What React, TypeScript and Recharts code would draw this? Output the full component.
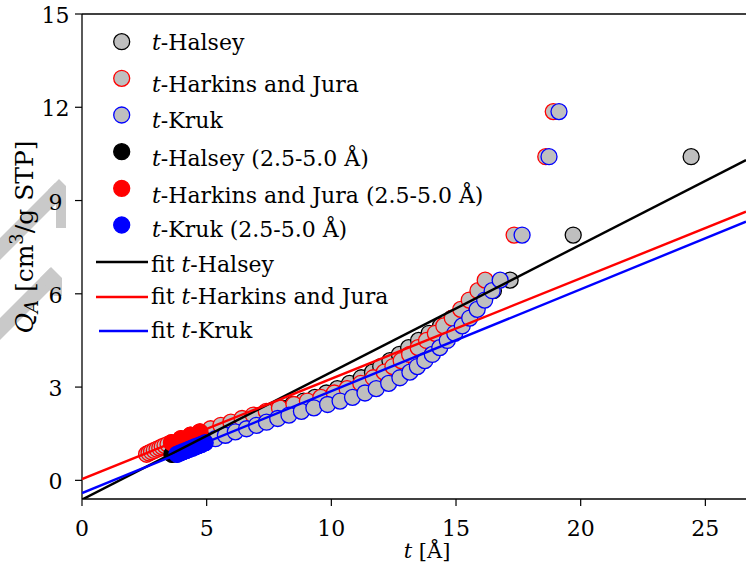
import React from 'react';
import { ScatterChart, Scatter, XAxis, YAxis, ReferenceLine } from 'recharts';

// adsorbed amount, shared by the three t-curves
const qA = [
  0.84, 0.88, 0.92, 0.96, 1.0, 1.04, 1.08, 1.12, 1.16, 1.21,
  1.34, 1.45, 1.56,
  1.66, 1.77, 1.87, 1.99, 2.1, 2.22, 2.33, 2.44, 2.55, 2.67, 2.81, 2.95, 3.12, 3.3,
  3.48, 3.66, 3.85, 4.05, 4.27, 4.5, 4.73, 4.97, 5.22, 5.5, 5.8, 6.1, 6.44,
  7.89, 10.41, 11.86,
];

const tHalsey = [
  3.61, 3.71, 3.8, 3.9, 4.0, 4.1, 4.19, 4.29, 4.39, 4.51,
  4.83, 5.15, 5.46,
  5.81, 6.12, 6.44, 6.8, 7.17, 7.58, 7.99, 8.45, 8.89, 9.34, 9.8, 10.24, 10.73, 11.2,
  11.65, 11.98, 12.35, 12.73, 13.1, 13.5, 13.92, 14.38, 14.84, 15.38, 15.94, 16.5, 17.17,
  19.7, 24.43, null,
];

const tHarkins = [
  2.59, 2.69, 2.79, 2.9, 3.01, 3.12, 3.22, 3.33, 3.45, 3.59,
  3.97, 4.35, 4.73,
  5.16, 5.57, 5.97, 6.42, 6.87, 7.39, 7.92, 8.5, 9.04, 9.58, 10.12, 10.63, 11.18, 11.68,
  12.12, 12.47, 12.8, 13.14, 13.48, 13.82, 14.17, 14.51, 14.85, 15.19, 15.53, 15.88, 16.17,
  17.33, 18.6, 18.9,
];

const tKruk = [
  3.81, 3.93, 4.05, 4.18, 4.3, 4.42, 4.54, 4.66, 4.79, 4.94,
  5.35, 5.75, 6.15,
  6.6, 7.0, 7.4, 7.85, 8.3, 8.8, 9.3, 9.85, 10.35, 10.85, 11.35, 11.8, 12.3, 12.75,
  13.15, 13.45, 13.75, 14.05, 14.35, 14.65, 14.95, 15.25, 15.55, 15.85, 16.15, 16.45, 16.77,
  17.65, 18.73, 19.13,
];

const fitRange = [3.5, 5.0];

const fitT = [0, 26.63];
const fitHalseyQ = [-0.62, 10.3];
const fitHarkinsQ = [0.04, 8.64];
const fitKrukQ = [-0.41, 8.32];

const xTicks = [0, 5, 10, 15, 20, 25];
const yTicks = [0, 3, 6, 9, 12, 15];

const FONT = 'DejaVu Serif';
const GRAY = '#bfbfbf';

const toPoints = (ts: (number | null)[]) =>
  ts.map((t, i) => ({ t, q: qA[i] })).filter((p) => p.t !== null) as { t: number; q: number }[];
const inRange = (pts: { t: number; q: number }[]) =>
  pts.filter((p) => p.t >= fitRange[0] && p.t <= fitRange[1]);
const fitPoints = (qs: number[]) => fitT.map((t, i) => ({ t, q: qs[i] }));

const halsey = toPoints(tHalsey);
const harkins = toPoints(tHarkins);
const kruk = toPoints(tKruk);

const dot = (fill: string, stroke: string) => (props: any) =>
  <circle cx={props.cx} cy={props.cy} r={8} fill={fill} stroke={stroke} strokeWidth={1.3} />;
const noDot = () => <g />;

const XTick = (props: any) => (
  <text x={props.x} y={536} textAnchor="middle" fontFamily={FONT} fontSize={22} fill="#000">
    {props.payload.value}
  </text>
);
const YTick = (props: any) => (
  <text x={55.5} y={props.y + 9} textAnchor="middle" fontFamily={FONT} fontSize={22} fill="#000">
    {props.payload.value}
  </text>
);

const legendMarkers = [
  { label: 't-Halsey', fill: GRAY, stroke: '#000', cy: 41.7, base: 49.5 },
  { label: 't-Harkins and Jura', fill: GRAY, stroke: '#ff0000', cy: 78.3, base: 91.7 },
  { label: 't-Kruk', fill: GRAY, stroke: '#0000ff', cy: 115, base: 128.3 },
  { label: 't-Halsey (2.5-5.0 Å)', fill: '#000', stroke: '#000', cy: 151.7, base: 166 },
  { label: 't-Harkins and Jura (2.5-5.0 Å)', fill: '#ff0000', stroke: '#ff0000', cy: 188.3, base: 203 },
  { label: 't-Kruk (2.5-5.0 Å)', fill: '#0000ff', stroke: '#0000ff', cy: 225, base: 236.7 },
];
const legendLines = [
  { label: 'fit t-Halsey', color: '#000', x0: 96, y: 262, base: 271.7 },
  { label: 'fit t-Harkins and Jura', color: '#ff0000', x0: 96, y: 297, base: 304 },
  { label: 'fit t-Kruk', color: '#0000ff', x0: 99, y: 331, base: 338 },
];

const withItalicT = (label: string) => {
  const i = label.indexOf('t-');
  return (
    <>
      {label.slice(0, i)}
      <tspan fontStyle="italic">t</tspan>
      {label.slice(i + 1)}
    </>
  );
};

export default function App() {
  return (
    <div style={{ position: 'absolute', left: 0, top: 0, width: 746, height: 563, background: '#fff', overflow: 'hidden' }}>
      <svg width={746} height={563} style={{ position: 'absolute', left: 0, top: 0 }}>
        <g fill="#c9c9c9">
          <polygon points="0,238 55,183 66,194 0,260" />
          <polygon points="48,190 59,179 66,186 66,228 56,228 56,198" />
          <polygon points="0,318 50,268 61,279 0,340" />
          <polygon points="40,278 51,267 62,278 62,296 54,296" />
        </g>
      </svg>
      <div style={{ position: 'absolute', left: 0, top: 0 }}>
        <ScatterChart width={746} height={563} margin={{ top: 14, right: 0, bottom: 0, left: 0 }}>
          <XAxis
            type="number"
            dataKey="t"
            domain={[0, 26.63]}
            allowDataOverflow
            ticks={xTicks}
            tick={XTick}
            tickSize={7}
            height={64}
            axisLine={{ stroke: '#000', strokeWidth: 1.3 }}
            tickLine={{ stroke: '#000', strokeWidth: 1.2 }}
          />
          <YAxis
            type="number"
            dataKey="q"
            domain={[-0.6, 15]}
            allowDataOverflow
            ticks={yTicks}
            tick={YTick}
            tickSize={7}
            width={82}
            axisLine={{ stroke: '#000', strokeWidth: 1.3 }}
            tickLine={{ stroke: '#000', strokeWidth: 1.2 }}
          />
          <ReferenceLine y={15} stroke="#000" strokeWidth={1.3} />
          <Scatter data={halsey} shape={dot(GRAY, '#000')} isAnimationActive={false} />
          <Scatter data={harkins} shape={dot(GRAY, '#ff0000')} isAnimationActive={false} />
          <Scatter data={kruk} shape={dot(GRAY, '#0000ff')} isAnimationActive={false} />
          <Scatter data={inRange(halsey)} shape={dot('#000', '#000')} isAnimationActive={false} />
          <Scatter data={inRange(harkins)} shape={dot('#ff0000', '#ff0000')} isAnimationActive={false} />
          <Scatter data={inRange(kruk)} shape={dot('#0000ff', '#0000ff')} isAnimationActive={false} />
          <Scatter data={fitPoints(fitHalseyQ)} line={{ stroke: '#000', strokeWidth: 2.4 }} shape={noDot} isAnimationActive={false} />
          <Scatter data={fitPoints(fitHarkinsQ)} line={{ stroke: '#ff0000', strokeWidth: 2.4 }} shape={noDot} isAnimationActive={false} />
          <Scatter data={fitPoints(fitKrukQ)} line={{ stroke: '#0000ff', strokeWidth: 2.4 }} shape={noDot} isAnimationActive={false} />
        </ScatterChart>
      </div>
      <svg width={746} height={563} style={{ position: 'absolute', left: 0, top: 0, pointerEvents: 'none' }}>
        <g fontFamily={FONT} fontSize={22} fill="#000">
          {legendMarkers.map((m) => (
            <g key={m.label}>
              <circle cx={121.7} cy={m.cy} r={8} fill={m.fill} stroke={m.stroke} strokeWidth={1.3} />
              <text x={152} y={m.base}>{withItalicT(m.label)}</text>
            </g>
          ))}
          {legendLines.map((l) => (
            <g key={l.label}>
              <line x1={l.x0} x2={148} y1={l.y} y2={l.y} stroke={l.color} strokeWidth={2.5} />
              <text x={151} y={l.base}>{withItalicT(l.label)}</text>
            </g>
          ))}
          <text x={427} y={558} textAnchor="middle" fontSize={21}>
            <tspan fontStyle="italic">t</tspan> [Å]
          </text>
          <text transform="translate(33, 237) rotate(-90)" textAnchor="middle" fontSize={25}>
            <tspan fontStyle="italic">Q</tspan>
            <tspan fontStyle="italic" fontSize={18} dy={5}>A</tspan>
            <tspan dy={-5}> [cm</tspan>
            <tspan fontSize={18} dy={-10}>3</tspan>
            <tspan dy={10}>/g STP]</tspan>
          </text>
        </g>
      </svg>
    </div>
  );
}
